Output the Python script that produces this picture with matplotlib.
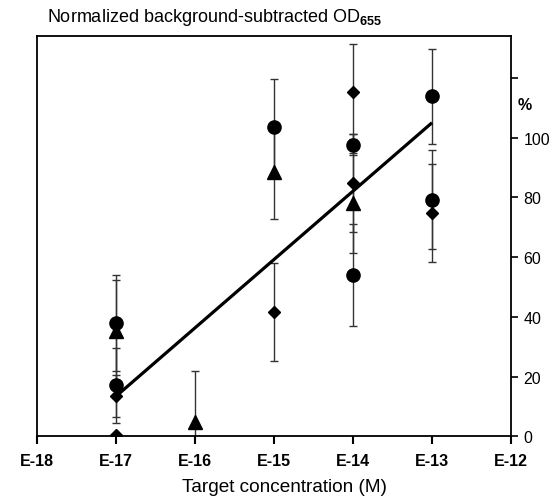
import numpy as np
import matplotlib
matplotlib.use('Agg')
import matplotlib.pyplot as plt

plt.rcParams['font.family'] = ['Liberation Sans', 'DejaVu Sans']
plt.rcParams['mathtext.fontset'] = 'custom'
plt.rcParams['mathtext.rm'] = 'Liberation Sans'
plt.rcParams['mathtext.bf'] = 'Liberation Sans:bold'

# log10 of target concentration (M)
circle_x = [-17, -17, -15, -14, -14, -13, -13]
circle_y = [38, 17, 103.5, 97.7, 54, 113.8, 79.2]
circle_err = [16, 12.5, 16, 3.4, 17, 16, 16.6]

triangle_x = [-17, -16, -15, -14]
triangle_y = [35.2, 4.7, 88.6, 78.2]
triangle_err = [17, 17, 16, 16.8]

diamond_x = [-17, -17, -15, -14, -14, -13]
diamond_y = [13.4, 0.3, 41.6, 115.4, 84.9, 74.8]
diamond_err = [7, 0, 16.5, 16, 16.4, 16.4]

fit_x = [-17, -13]
fit_y = [13.4, 105]

xticks = [-18, -17, -16, -15, -14, -13, -12]
xlabels = ['E-18', 'E-17', 'E-16', 'E-15', 'E-14', 'E-13', 'E-12']
yticks = [0, 20, 40, 60, 80, 100, 120]
ylabels = ['0', '20', '40', '60', '80', '100', '']

fig = plt.figure(figsize=(5.53, 5.02), dpi=100)
ax = fig.add_axes([0.067, 0.129, 0.857, 0.797])

err_kw = dict(fmt='none', ecolor='#333333', elinewidth=1, capsize=3, capthick=1, zorder=2)
ax.errorbar(circle_x, circle_y, yerr=circle_err, **err_kw)
ax.errorbar(triangle_x, triangle_y, yerr=triangle_err, **err_kw)
ax.errorbar(diamond_x, diamond_y, yerr=diamond_err, **err_kw)

ax.plot(fit_x, fit_y, color='black', lw=2.3, solid_capstyle='butt', zorder=3)

ax.plot(circle_x, circle_y, 'o', color='black', ms=9.5, ls='none', zorder=4)
ax.plot(triangle_x, triangle_y, '^', color='black', ms=9.5, ls='none', zorder=4)
ax.plot(diamond_x, diamond_y, 'D', color='black', ms=6.5, ls='none', zorder=4)

ax.set_xlim(-18, -12)
ax.set_ylim(0, 134)

for s in ax.spines.values():
    s.set_linewidth(1.3)

ax.set_xticks(xticks)
ax.set_xticklabels(xlabels, fontsize=11.5, fontweight='bold')
ax.tick_params(axis='x', direction='out', length=6, width=1.5, pad=6)

ax.yaxis.tick_right()
ax.set_yticks(yticks)
ax.set_yticklabels(ylabels, fontsize=11.5)
ax.tick_params(axis='y', direction='out', length=5, width=1.2, pad=4)

ax.text(1.015, 111, '%', transform=ax.get_yaxis_transform(), fontsize=11.5,
        fontweight='bold', va='center', ha='left')

ax.set_xlabel('Target concentration (M)', fontsize=13.7)
ax.xaxis.set_label_coords(0.521, -0.104)
ax.xaxis.label.set_va('top')

fig.text(0.085, 0.966, r'Normalized background-subtracted OD$_{\mathbf{655}}$',
         fontsize=13, va='center', ha='left')

fig.savefig('out.png', dpi=100)
